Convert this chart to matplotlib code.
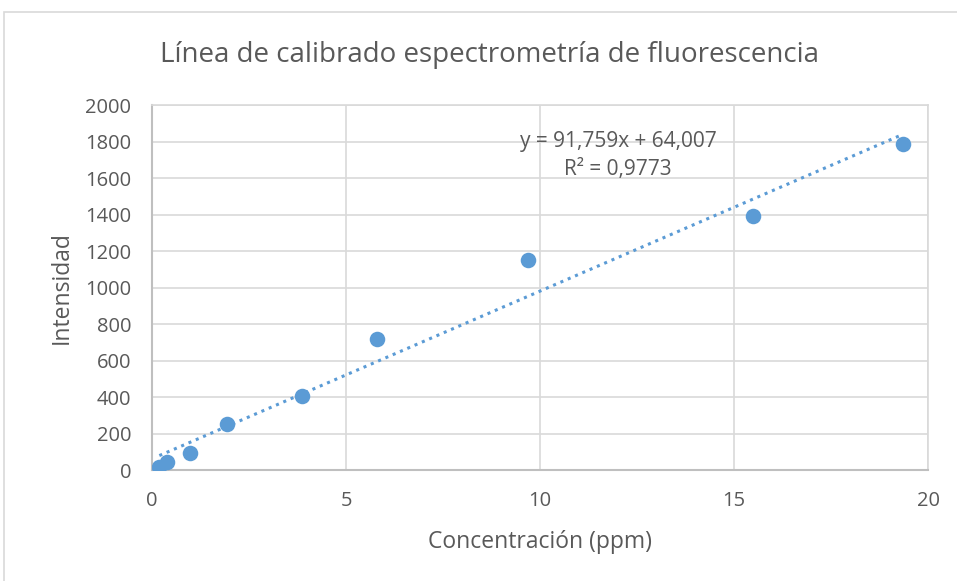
import numpy as np
import matplotlib.pyplot as plt
from matplotlib.patches import Rectangle

plt.rcParams['font.family'] = ['Open Sans', 'DejaVu Sans']

# Datos
concentracion = [0.19, 0.39, 0.97, 1.94, 3.87, 5.81, 9.68, 15.48, 19.35]
intensidad = [18, 44, 93, 252, 407, 718, 1150, 1390, 1785]
ecuacion = "y = 91,759x + 64,007"
r2 = "R² = 0,9773"

gris_texto = '#595959'
azul = '#5b9bd5'

fig = plt.figure(figsize=(9.57, 5.81), dpi=100)
ax = fig.add_axes([0.1588, 0.191, 0.811, 0.628])

# borde del gráfico
fig.patches.append(Rectangle((4 / 957, -0.01), 1.0, 1 - 12 / 581 + 0.01, transform=fig.transFigure,
                             fill=False, edgecolor='#d9d9d9', linewidth=1.2))

ax.scatter(concentracion, intensidad, s=125, color=azul, zorder=3, linewidths=0)

# línea de tendencia
pend, orden = np.polyfit(concentracion, intensidad, 1)
xs = np.array([min(concentracion), max(concentracion)])
ax.plot(xs, pend * xs + orden, linestyle=(0, (1, 1.6)), color=azul, linewidth=2.2, zorder=2)

ax.text(0.6005, 0.901, ecuacion, transform=ax.transAxes, ha='center', va='center',
        fontsize=15, color=gris_texto)
ax.text(0.6005, 0.825, r2, transform=ax.transAxes, ha='center', va='center',
        fontsize=15, color=gris_texto)

ax.set_xlim(0, 20)
ax.set_ylim(0, 2000)
ax.set_xticks(range(0, 21, 5))
ax.set_yticks(range(0, 2001, 200))
ax.grid(True, color='#d9d9d9', linewidth=1.2)
ax.set_axisbelow(True)
for lado in ['top', 'right']:
    ax.spines[lado].set_color('#d9d9d9')
    ax.spines[lado].set_linewidth(1.2)
for lado in ['left', 'bottom']:
    ax.spines[lado].set_color('#bfbfbf')
    ax.spines[lado].set_linewidth(1.5)
ax.tick_params(axis='y', length=0, labelsize=14.5, labelcolor=gris_texto, pad=15)
ax.tick_params(axis='x', length=0, labelsize=14.5, labelcolor=gris_texto, pad=15)

ax.set_xlabel("Concentración (ppm)", fontsize=16.5, color=gris_texto)
ax.set_ylabel("Intensidad", fontsize=16.5, color=gris_texto)
ax.xaxis.set_label_coords(0.5, -0.164)
ax.yaxis.set_label_coords(-0.1005, 0.5)
fig.text(0.511, 0.905, "Línea de calibrado espectrometría de fluorescencia",
         ha='center', va='center', fontsize=20, color=gris_texto)

fig.savefig("out.png", dpi=100)
